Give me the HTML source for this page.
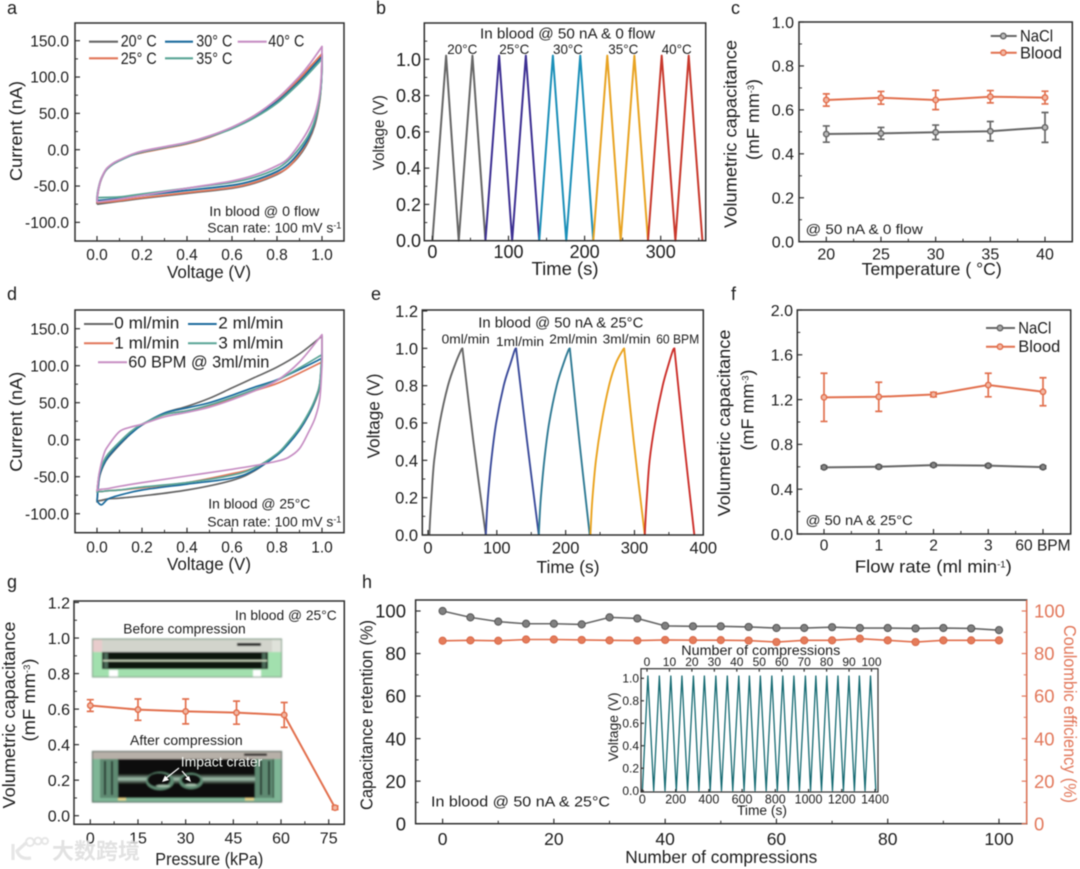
<!DOCTYPE html>
<html lang="en"><head><meta charset="utf-8"><title>Volumetric capacitance panels</title>
<style>
html,body{margin:0;padding:0;background:#fff;width:1080px;height:869px;overflow:hidden}
svg{display:block;filter:blur(.5px)}
text{font-family:"Liberation Sans","Noto Sans CJK SC",sans-serif;fill:#1c1c1c}
.leg{font-size:17px}.ann{font-size:14px}.ttl{font-size:17.5px}
.sup{font-size:9px}
</style></head><body>
<svg id="figure" width="1080" height="869" viewBox="0 0 1080 869" xmlns="http://www.w3.org/2000/svg">
<defs>
<filter id="soft" x="-5%" y="-5%" width="110%" height="110%"><feGaussianBlur stdDeviation=".7"/></filter>
<linearGradient id="bandGrad" x1="0" y1="0" x2="0" y2="1"><stop offset="0" stop-color="#0e1210"/><stop offset=".5" stop-color="#a8c9b4"/><stop offset="1" stop-color="#0e1210"/></linearGradient>
</defs>
<rect width="1080" height="869" fill="#fff"/>
<!-- panel letters -->
<g>
<text x="7" y="14" style="font-size:18px">a</text>
<text x="376" y="14" style="font-size:18px">b</text>
<text x="731" y="14" style="font-size:18px">c</text>
<text x="7" y="300" style="font-size:18px">d</text>
<text x="371" y="300" style="font-size:18px">e</text>
<text x="731" y="300" style="font-size:18px">f</text>
<text x="7" y="588" style="font-size:18px">g</text>
<text x="362" y="588" style="font-size:18px">h</text>
</g>

<!-- PANEL A -->
<g id="panel-a"></g>
<g>
<text class="ttl" transform="translate(22,131) rotate(-90)" text-anchor="middle" textLength="100" lengthAdjust="spacingAndGlyphs">Current (nA)</text>
<text class="ttl" x="209" y="278" text-anchor="middle" textLength="84" lengthAdjust="spacingAndGlyphs">Voltage (V)</text>
<g>
<line x1="89" x2="118" y1="41.7" y2="41.7" stroke="#666" stroke-width="2.2"/><text class="leg" x="120.7" y="46.5" textLength="36" lengthAdjust="spacingAndGlyphs">20° C</text>
<line x1="165" x2="193" y1="41.7" y2="41.7" stroke="#1c6c9e" stroke-width="2.2"/><text class="leg" x="196.3" y="46.5" textLength="36" lengthAdjust="spacingAndGlyphs">30° C</text>
<line x1="237.7" x2="266.7" y1="41.7" y2="41.7" stroke="#c78fc4" stroke-width="2.2"/><text class="leg" x="268.3" y="46.5" textLength="36" lengthAdjust="spacingAndGlyphs">40° C</text>
<line x1="89" x2="118" y1="58.3" y2="58.3" stroke="#e2775a" stroke-width="2.2"/><text class="leg" x="120.7" y="64" textLength="36" lengthAdjust="spacingAndGlyphs">25° C</text>
<line x1="165" x2="193" y1="58.3" y2="58.3" stroke="#5aa596" stroke-width="2.2"/><text class="leg" x="196.3" y="64" textLength="36" lengthAdjust="spacingAndGlyphs">35° C</text>
</g>
<text class="ann" x="209.3" y="216" textLength="110" lengthAdjust="spacingAndGlyphs">In blood @ 0 flow</text>
<text class="ann" x="207.3" y="232.7" textLength="134" lengthAdjust="spacingAndGlyphs">Scan rate: 100 mV s<tspan class="sup" dy="-4">-1</tspan></text>
</g>

<!-- PANEL B -->
<g id="panel-b"></g>
<g>
<text transform="translate(384,132.7) rotate(-90)" text-anchor="middle" style="font-size:15.5px" textLength="75" lengthAdjust="spacingAndGlyphs">Voltage (V)</text>
<text x="565" y="275" text-anchor="middle" style="font-size:18px" textLength="67" lengthAdjust="spacingAndGlyphs">Time (s)</text>
<text x="480" y="38.3" style="font-size:15px" textLength="175" lengthAdjust="spacingAndGlyphs">In blood @ 50 nA  &amp; 0 flow</text>
<text x="462.3" y="54" text-anchor="middle" style="font-size:14px" textLength="30" lengthAdjust="spacingAndGlyphs">20°C</text>
<text x="514.3" y="54" text-anchor="middle" style="font-size:14px" textLength="30" lengthAdjust="spacingAndGlyphs">25°C</text>
<text x="568" y="54" text-anchor="middle" style="font-size:14px" textLength="30" lengthAdjust="spacingAndGlyphs">30°C</text>
<text x="623.3" y="54" text-anchor="middle" style="font-size:14px" textLength="30" lengthAdjust="spacingAndGlyphs">35°C</text>
<text x="676.7" y="54" text-anchor="middle" style="font-size:14px" textLength="30" lengthAdjust="spacingAndGlyphs">40°C</text>
</g>

<!-- PANEL C -->
<g id="panel-c"></g>
<g>
<text class="ttl" transform="translate(736.5,134) rotate(-90)" text-anchor="middle" textLength="188" lengthAdjust="spacingAndGlyphs">Volumetric capacitance</text>
<text class="ttl" transform="translate(759,119.5) rotate(-90)" text-anchor="middle" textLength="81" lengthAdjust="spacingAndGlyphs">(mF mm<tspan class="sup" dy="-5">-3</tspan><tspan dy="5">)</tspan></text>
<text class="ttl" x="931.7" y="275" text-anchor="middle" textLength="140" lengthAdjust="spacingAndGlyphs">Temperature ( °C)</text>
<g>
<line x1="990.7" x2="1016.7" y1="36" y2="36" stroke="#666" stroke-width="2"/><circle cx="1003.3" cy="36" r="2.7" fill="#bbb" stroke="#666" stroke-width="1.5"/>
<text class="leg" x="1020" y="41.3" textLength="33" lengthAdjust="spacingAndGlyphs">NaCl</text>
<line x1="990.7" x2="1016.7" y1="52.7" y2="52.7" stroke="#e2704e" stroke-width="2"/><circle cx="1003.3" cy="52.7" r="2.7" fill="#f2b8a4" stroke="#e2704e" stroke-width="1.5"/>
<text class="leg" x="1020" y="58.3" textLength="42" lengthAdjust="spacingAndGlyphs">Blood</text>
</g>
<text class="ann" x="805.7" y="234" textLength="117" lengthAdjust="spacingAndGlyphs">@ 50 nA  &amp; 0 flow</text>
</g>

<!-- PANEL D -->
<g id="panel-d"></g>
<g>
<text class="ttl" transform="translate(22,421.7) rotate(-90)" text-anchor="middle" textLength="100" lengthAdjust="spacingAndGlyphs">Current (nA)</text>
<text class="ttl" x="209" y="570" text-anchor="middle" textLength="84" lengthAdjust="spacingAndGlyphs">Voltage (V)</text>
<g>
<line x1="84" x2="113.3" y1="324" y2="324" stroke="#666" stroke-width="2"/><text class="leg" x="114.3" y="328.3" textLength="65" lengthAdjust="spacingAndGlyphs">0 ml/min</text>
<line x1="188" x2="216.7" y1="324" y2="324" stroke="#1c6c9e" stroke-width="2"/><text class="leg" x="218.3" y="328.3" textLength="65" lengthAdjust="spacingAndGlyphs">2 ml/min</text>
<line x1="84" x2="113.3" y1="343.3" y2="343.3" stroke="#e2775a" stroke-width="2"/><text class="leg" x="114.3" y="348.3" textLength="65" lengthAdjust="spacingAndGlyphs">1 ml/min</text>
<line x1="188" x2="216.7" y1="343.3" y2="343.3" stroke="#5aa596" stroke-width="2"/><text class="leg" x="218.3" y="348.3" textLength="65" lengthAdjust="spacingAndGlyphs">3 ml/min</text>
<line x1="98" x2="127" y1="362.3" y2="362.3" stroke="#c78fc4" stroke-width="2"/><text class="leg" x="128.3" y="367.3" textLength="141" lengthAdjust="spacingAndGlyphs">60 BPM @ 3ml/min</text>
</g>
<text class="ann" x="208.3" y="508.3" textLength="102" lengthAdjust="spacingAndGlyphs">In blood @ 25°C</text>
<text class="ann" x="207.3" y="526.7" textLength="134" lengthAdjust="spacingAndGlyphs">Scan rate: 100 mV s<tspan class="sup" dy="-4">-1</tspan></text>
</g>

<!-- PANEL E -->
<g id="panel-e"></g>
<g>
<text class="ttl" transform="translate(379.3,416) rotate(-90)" text-anchor="middle" textLength="85" lengthAdjust="spacingAndGlyphs">Voltage (V)</text>
<text class="ttl" x="568" y="573" text-anchor="middle" textLength="63" lengthAdjust="spacingAndGlyphs">Time (s)</text>
<text x="478.3" y="327.3" style="font-size:14.5px" textLength="165" lengthAdjust="spacingAndGlyphs">In blood @ 50 nA  &amp; 25°C</text>
<text x="465.7" y="343.3" text-anchor="middle" style="font-size:13px" textLength="48" lengthAdjust="spacingAndGlyphs">0ml/min</text>
<text x="520" y="346" text-anchor="middle" style="font-size:13px" textLength="48" lengthAdjust="spacingAndGlyphs">1ml/min</text>
<text x="573.3" y="343.3" text-anchor="middle" style="font-size:13px" textLength="48" lengthAdjust="spacingAndGlyphs">2ml/min</text>
<text x="626.7" y="343.3" text-anchor="middle" style="font-size:13px" textLength="48" lengthAdjust="spacingAndGlyphs">3ml/min</text>
<text x="677.7" y="343.3" text-anchor="middle" style="font-size:13px" textLength="43" lengthAdjust="spacingAndGlyphs">60 BPM</text>
</g>

<!-- PANEL F -->
<g id="panel-f"></g>
<g>
<text class="ttl" transform="translate(730,423) rotate(-90)" text-anchor="middle" textLength="187" lengthAdjust="spacingAndGlyphs">Volumetric capacitance</text>
<text class="ttl" transform="translate(753.3,410) rotate(-90)" text-anchor="middle" textLength="81" lengthAdjust="spacingAndGlyphs">(mF mm<tspan class="sup" dy="-5">-3</tspan><tspan dy="5">)</tspan></text>
<text class="ttl" x="933.3" y="572.7" text-anchor="middle" textLength="157" lengthAdjust="spacingAndGlyphs">Flow rate (ml min<tspan class="sup" dy="-5">-1</tspan><tspan dy="5">)</tspan></text>
<g>
<line x1="986" x2="1015" y1="328" y2="328" stroke="#666" stroke-width="2"/><circle cx="1000" cy="328" r="2.7" fill="#aaa" stroke="#666" stroke-width="1.5"/>
<text class="leg" x="1018.3" y="333.3" textLength="33" lengthAdjust="spacingAndGlyphs">NaCl</text>
<line x1="986" x2="1015" y1="346.7" y2="346.7" stroke="#e2704e" stroke-width="2"/><circle cx="1000" cy="346.7" r="2.7" fill="#f2b8a4" stroke="#e2704e" stroke-width="1.5"/>
<text class="leg" x="1018.3" y="352" textLength="42" lengthAdjust="spacingAndGlyphs">Blood</text>
</g>
<text class="ann" x="805.7" y="525" textLength="107" lengthAdjust="spacingAndGlyphs">@ 50 nA  &amp; 25°C</text>
</g>

<!-- PANEL G -->
<g id="panel-g">
<g filter="url(#soft)">
<rect x="92.5" y="639" width="189" height="38" fill="#bcc7b8" stroke="#7f9a85" stroke-width="1"/>
<rect x="93" y="640" width="188" height="12" fill="#d2d4cc"/>
<rect x="93" y="640" width="9" height="14" fill="#e8cccc"/>
<rect x="272" y="640" width="9" height="14" fill="#dfe2da"/>
<rect x="93" y="652" width="188" height="24.5" fill="#a2e0ae"/>
<rect x="102" y="652" width="166" height="17" fill="#10150f"/>
<rect x="104" y="653" width="4" height="15" fill="#4c6a58"/>
<rect x="262" y="653" width="4" height="15" fill="#4c6a58"/>
<rect x="103" y="660" width="164" height="1.4" fill="#d6e4c8"/>
<rect x="109" y="670" width="9" height="6.5" fill="#fff"/>
<rect x="253" y="670" width="8" height="6.5" fill="#fff"/>
<rect x="237" y="643" width="24" height="2.8" fill="#000"/>
</g>
<g filter="url(#soft)">
<rect x="92.5" y="751.5" width="189" height="50.5" fill="#7fb696" stroke="#3f5448" stroke-width="1"/>
<rect x="93" y="752" width="188" height="7" fill="#b7b0a8"/>
<rect x="100" y="759" width="174" height="39" fill="#0b0e0c"/>
<rect x="100" y="759" width="18" height="39" fill="#5f8a72"/>
<rect x="255" y="759" width="18" height="39" fill="#5f8a72"/>
<rect x="104" y="761" width="2" height="34" fill="#26382d"/><rect x="111" y="761" width="2" height="34" fill="#26382d"/>
<rect x="260" y="761" width="2" height="34" fill="#26382d"/><rect x="268" y="761" width="2" height="34" fill="#26382d"/>
<rect x="118" y="774" width="137" height="10" fill="url(#bandGrad)"/>
<ellipse cx="160" cy="781" rx="14" ry="9" fill="#5f8a72"/>
<ellipse cx="191" cy="781" rx="12" ry="8" fill="#5f8a72"/>
<ellipse cx="159" cy="780" rx="11.5" ry="7" fill="#0a0d0b"/>
<ellipse cx="191" cy="780" rx="9.5" ry="5.5" fill="#0a0d0b"/>
<ellipse cx="163" cy="786" rx="7" ry="1.3" fill="#a8c2ae"/>
<ellipse cx="191" cy="785" rx="6" ry="1.2" fill="#a8c2ae"/>
<rect x="118" y="798" width="8" height="2.4" fill="#ecd88c"/>
<rect x="245" y="798" width="9" height="2.4" fill="#ecd88c"/>
<rect x="244" y="753.5" width="23" height="2.2" fill="#000"/>
</g>
<g>
<line x1="179" y1="768" x2="165" y2="779" stroke="#fff" stroke-width="1.2"/><polygon points="162,782 165,775.5 169,780" fill="#fff"/>
<line x1="182" y1="771" x2="189" y2="779" stroke="#fff" stroke-width="1.2"/><polygon points="191,782 185,779 189,776" fill="#fff"/>
<text x="180.7" y="766.7" style="font-size:14px;fill:#f4f8f4" textLength="81.6" lengthAdjust="spacingAndGlyphs">Impact crater</text>
</g>
</g>
<g>
<text class="ttl" transform="translate(15,715) rotate(-90)" text-anchor="middle" textLength="187" lengthAdjust="spacingAndGlyphs">Volumetric capacitance</text>
<text class="ttl" transform="translate(35,700) rotate(-90)" text-anchor="middle" textLength="83" lengthAdjust="spacingAndGlyphs">(mF mm<tspan class="sup" dy="-5">-3</tspan><tspan dy="5">)</tspan></text>
<text class="ttl" x="209.3" y="865" text-anchor="middle" textLength="108" lengthAdjust="spacingAndGlyphs">Pressure (kPa)</text>
<text class="ann" x="235" y="620" textLength="101.7" lengthAdjust="spacingAndGlyphs">In blood @ 25°C</text>
<text class="ann" x="123.3" y="633.3" textLength="122.4" lengthAdjust="spacingAndGlyphs">Before compression</text>
<text class="ann" x="130" y="745" textLength="112.7" lengthAdjust="spacingAndGlyphs">After compression</text>
</g>

<!-- PANEL H -->
<g id="panel-h"></g>
<g>
<text class="ttl" transform="translate(372.4,715) rotate(-90)" text-anchor="middle" textLength="190" lengthAdjust="spacingAndGlyphs">Capacitance retention (%)</text>
<text class="ttl" transform="translate(1064,714) rotate(90)" text-anchor="middle" textLength="178" lengthAdjust="spacingAndGlyphs" style="fill:#e2775a">Coulombic efficiency (%)</text>
<text class="ttl" x="721.3" y="863" text-anchor="middle" textLength="192" lengthAdjust="spacingAndGlyphs">Number of compressions</text>
<text x="431" y="806.7" style="font-size:14.5px" textLength="179" lengthAdjust="spacingAndGlyphs">In blood @ 50 nA &amp; 25°C</text>
<text x="760.8" y="655" text-anchor="middle" style="font-size:14px" textLength="159" lengthAdjust="spacingAndGlyphs">Number of compressions</text>
<text x="762" y="815" text-anchor="middle" style="font-size:13.6px" textLength="50" lengthAdjust="spacingAndGlyphs">Time (s)</text>
<text transform="translate(618,727) rotate(-90)" text-anchor="middle" style="font-size:13.8px" textLength="69" lengthAdjust="spacingAndGlyphs">Voltage (V)</text>
</g>

<!-- watermark -->
<g opacity=".85">
<path d="M13 844 V860 M27 842 L17 851 Q20 860 31 858" fill="none" stroke="#e2e2e2" stroke-width="3.2"/>
<circle cx="30" cy="842" r="4" fill="none" stroke="#e2e2e2" stroke-width="2"/>
<circle cx="38" cy="841" r="3.4" fill="none" stroke="#e2e2e2" stroke-width="2"/>
<circle cx="45" cy="841" r="3" fill="none" stroke="#e2e2e2" stroke-width="2"/>
<text x="52" y="859" style="font-size:22px;font-weight:700;fill:#dedede;font-family:'Noto Sans CJK SC',sans-serif">大数跨境</text>
</g>
</svg>

<script>
/* ---------- panel a data ---------- */
const aVoltUp = [0,.003,.01,.02,.04,.07,.1,.15,.2,.3,.4,.5,.6,.7,.8,.9,.95,1.0];
const aVoltDown = [1.0,.998,.99,.97,.94,.9,.85,.8,.7,.6,.4,.2,.1,0];
const a20Up = [-75,-62,-50,-40,-28,-20,-15,-8,-4,3,9,18,30,46,67,96,113,130];
const a20Down = [125,100,68,36,12,-8,-24,-34,-46,-53,-60,-67,-71,-75];
const a25Up = [-73,-61,-49,-39,-28,-20,-15,-8,-4,2,8,17,30,47,69,98,115,132];
const a25Down = [128,102,70,38,14,-6,-24,-33,-45,-52,-59,-66,-70,-73];
const a30Up = [-70,-60,-49,-39,-28,-20,-15,-8,-3,3,9,18,30,46,66,94,111,128];
const a30Down = [130,98,72,40,16,-3,-20,-30,-42,-49,-56,-63,-67,-70];
const a35Up = [-66,-58,-48,-39,-28,-20,-15,-8,-3,3,9,18,29,44,64,92,108,125];
const a35Down = [125,100,72,42,20,2,-15,-26,-38,-45,-53,-61,-65,-66];
const a40Up = [-72,-61,-49,-39,-27,-19,-14,-7,-2,4,10,19,31,47,70,101,120,142];
const a40Down = [141,108,78,50,28,8,-12,-22,-35,-43,-53,-63,-68,-72];
const cvXTicks = [0,.2,.4,.6,.8,1];
const cvXLabels = ['0.0','0.2','0.4','0.6','0.8','1.0'];
const cvYTicks = [-100,-50,0,50,100,150];
const cvYLabels = ['-100.0','-50.0','0.0','50.0','100.0','150.0'];

/* ---------- panel b data ---------- */
const bTimes20 = [0,18,34.6,52.6,69.7];
const bTimes25 = [69.7,87.7,104.8,122.8,140.4];
const bTimes30 = [140.4,158.3,175.9,194.3,211.4];
const bTimes35 = [211.4,229.8,247.4,265.4,283.3];
const bTimes40 = [283.3,301.3,319.3,336.8,354.8];
const bVolts = [0,1.02,0,1.02,0];
const bXTicks = [0,100,200,300];
const bXLabels = ['0','100','200','300'];
const bYTicks = [0,.2,.4,.6,.8,1];
const bYLabels = ['0.0','0.2','0.4','0.6','0.8','1.0'];

/* ---------- panel c data ---------- */
const cTemps = [20,25,30,35,40];
const cNaCl = [.49,.493,.498,.503,.52];
const cNaClErr = [.037,.027,.033,.044,.068];
const cBlood = [.645,.655,.645,.66,.656];
const cBloodErr = [.028,.029,.044,.028,.029];
const cXLabels = ['20','25','30','35','40'];
const cYTicks = [0,.2,.4,.6,.8,1];
const cYLabels = ['0.0','0.2','0.4','0.6','0.8','1.0'];

/* ---------- panel d data ---------- */
const dVoltUp = [0,.01,.03,.05,.1,.15,.2,.3,.4,.5,.6,.7,.8,.9,1.0];
const dVoltDown = [1.0,.99,.97,.94,.9,.85,.8,.7,.6,.4,.2,.1,.05,.02,0];
const d0Up = [-85,-52,-34,-24,-7,8,20,36,45,56,70,84,98,116,140];
const d0Down = [110,75,55,35,15,-5,-20,-42,-55,-68,-76,-79,-80,-82,-83];
const d1Up = [-70,-48,-31,-21,-5,9,20,34,39,46,55,66,76,90,105];
const d1Down = [112,72,52,33,13,-5,-20,-38,-46,-58,-65,-68,-69,-70,-70];
const d2Up = [-83,-50,-33,-23,-6,8,20,36,43,50,60,71,81,95,110];
const d2Down = [115,74,53,33,13,-6,-21,-41,-52,-60,-68,-75,-80,-88,-83];
const d3Up = [-72,-46,-29,-19,-3,11,21,34,39,47,57,68,80,97,115];
const d3Down = [122,76,55,36,16,-3,-19,-38,-48,-58,-64,-68,-69,-70,-70];
const d60Up = [-70,-45,-20,-8,11,17,21,31,37,44,54,66,80,105,142];
const d60Down = [100,55,30,10,-12,-24,-29,-35,-40,-49,-58,-63,-66,-67,-68];

/* ---------- panel e data ---------- */
const eVoltsCharge = [0,.08,.2,.4,.6,.8,.92,.99,1];
const eVoltsDischarge = [1,.5,0];
const eTimes0 = [2,3,5,9,17,29,40,48,50];
const eFall0 = [50,66,84];
const eTimes1 = [84,85,87,92,99,110,120,126,128];
const eFall1 = [128,144,161];
const eTimes2 = [161,162,164,169,176,187,197,204,206];
const eFall2 = [206,220,235];
const eTimes3 = [236,237,239,244,252,263,273,283,285];
const eFall3 = [285,299,315];
const eTimes60 = [315,316,318,322,330,341,350,356,358];
const eFall60 = [358,372,387];
const eXTicks = [0,100,200,300,400];
const eXLabels = ['0','100','200','300','400'];
const eYTicks = [0,.2,.4,.6,.8,1,1.2];
const eYLabels = ['0.0','0.2','0.4','0.6','0.8','1.0','1.2'];

/* ---------- panel f data ---------- */
const fCats = [0,1,2,3,4];
const fNaCl = [.595,.6,.615,.61,.597];
const fNaClErr = [.012,.012,.012,.012,.012];
const fBlood = [1.22,1.225,1.245,1.33,1.27];
const fBloodErr = [.215,.13,.02,.105,.125];
const fXLabels = ['0','1','2','3','60 BPM'];
const fYTicks = [0,.4,.8,1.2,1.6,2];
const fYLabels = ['0.0','0.4','0.8','1.2','1.6','2.0'];

/* ---------- panel g data ---------- */
const gPressure = [0,15,30,46,61,77];
const gCap = [.62,.597,.587,.58,.567,.045];
const gErr = [.033,.06,.07,.065,.07,.01];
const gXTicks = [0,15,30,45,60,75];
const gXLabels = ['0','15','30','45','60','75'];
const gYTicks = [0,.2,.4,.6,.8,1,1.2];
const gYLabels = ['0.0','0.2','0.4','0.6','0.8','1.0','1.2'];

/* ---------- panel h data ---------- */
const hCycles = [0,5,10,15,20,25,30,35,40,45,50,55,60,65,70,75,80,85,90,95,100];
const hRetention = [100,97,95,94,94,93.7,97,96.5,93,92.8,92.8,92.5,92,92,92.4,92,92,91.8,92,91.8,91];
const hCoulombic = [86,86.2,86,86.6,86.6,86.4,86.2,86.1,86.4,86.3,86.3,86.1,85.4,86.2,86.2,87,86.2,85.4,86.2,86.2,86.2];
const hXTicks = [0,20,40,60,80,100];
const hXLabels = ['0','20','40','60','80','100'];
const hYTicks = [0,20,40,60,80,100];
const hYLabels = ['0','20','40','60','80','100'];

/* ---------- panel h inset data ---------- */
const insetPeakTimes = [33,102,171,238,307,373,442,511,580,644,710,779,845,912,981,1044,1110,1177,1243,1306,1373];
const insetValleyTimes = [0,68,136,204,272,340,408,476,544,612,678,745,812,878,945,1012,1078,1144,1210,1276,1340,1405];
const insetPeakVolt = [1.02,1.02,1.02,1.02,1.02,1.02,1.02,1.02,1.02,1.02,1.02,1.02,1.02,1.02,1.02,1.02,1.02,1.02,1.02,1.02,1.02];
const insetXTicks = [0,200,400,600,800,1000,1200,1400];
const insetXLabels = ['0','200','400','600','800','1000','1200','1400'];
const insetYTicks = [0,.2,.4,.6,.8,1];
const insetYLabels = ['0.0','0.2','0.4','0.6','0.8','1.0'];
const insetTopTicks = [0,10,20,30,40,50,60,70,80,90,100];
const insetTopLabels = ['0','10','20','30','40','50','60','70','80','90','100'];

/* ---------- drawing helpers ---------- */
const NS = 'http://www.w3.org/2000/svg';
const DARK = '#2e2e2e', GRAY = '#666666', ORANGE = '#e2704e';
function mk(parent, tag, attrs, txt){
  const n = document.createElementNS(NS, tag);
  for (const k in attrs) n.setAttribute(k, attrs[k]);
  if (txt !== undefined) n.textContent = txt;
  parent.appendChild(n);
  return n;
}
function scale(d0, d1, r0, r1){ return v => r0 + (v - d0) * (r1 - r0) / (d1 - d0); }

function xAxis(g, X, ticks, labels, o){
  ticks.forEach((v, i) => {
    const t = mk(g, 'line', {x1:X(v), x2:X(v), y1:o.y, y2:o.y + o.dir * (o.len || 5), stroke:o.color || DARK, 'stroke-width':1.2});
    
    
    const l = mk(g, 'text', {x:X(v), y:o.labelY, 'text-anchor':'middle', style:'font-size:' + o.font + 'px'}, labels[i]);
    
    
  });
  (o.minor || []).forEach(v => {
    const t = mk(g, 'line', {x1:X(v), x2:X(v), y1:o.y, y2:o.y + o.dir * 3, stroke:o.color || DARK, 'stroke-width':1});
    
    
  });
}
function yAxis(g, Y, ticks, labels, o){
  ticks.forEach((v, i) => {
    const t = mk(g, 'line', {x1:o.x, x2:o.x + o.dir * (o.len || 5), y1:Y(v), y2:Y(v), stroke:o.color || DARK, 'stroke-width':1.2});
    
    
    const l = mk(g, 'text', {x:o.labelX, y:Y(v) + o.font * .36, 'text-anchor':o.anchor || 'end', style:'font-size:' + o.font + 'px' + (o.color ? ';fill:' + o.color : '')}, labels[i]);
    
    
  });
  (o.minor || []).forEach(v => {
    const t = mk(g, 'line', {x1:o.x, x2:o.x + o.dir * 3, y1:Y(v), y2:Y(v), stroke:o.color || DARK, 'stroke-width':1});
    
    
  });
}
function frame(g, l, t, r, b, sw){
  const f = mk(g, 'rect', {x:l, y:t, width:r - l, height:b - t, fill:'none', stroke:DARK, 'stroke-width':sw || 1.5});
  
  
}
function polyline(g, xs, ys, X, Y, color, w, name){
  const pts = xs.map((x, i) => X(x).toFixed(2) + ',' + Y(ys[i]).toFixed(2)).join(' ');
  const p = mk(g, 'polyline', {points:pts, fill:'none', stroke:color, 'stroke-width':w, 'stroke-linejoin':'round'});
  
  
}
/* Catmull-Rom smoothing through the data points, in pixel space */
function smoothSeg(xs, ys, X, Y){
  const P = xs.map((x, i) => [X(x), Y(ys[i])]);
  let d = '';
  for (let i = 0; i < P.length - 1; i++) {
    const p0 = P[Math.max(i - 1, 0)], p1 = P[i], p2 = P[i + 1], p3 = P[Math.min(i + 2, P.length - 1)];
    const c1x = p1[0] + (p2[0] - p0[0]) / 6, c1y = p1[1] + (p2[1] - p0[1]) / 6;
    const c2x = p2[0] - (p3[0] - p1[0]) / 6, c2y = p2[1] - (p3[1] - p1[1]) / 6;
    d += 'C' + c1x.toFixed(2) + ' ' + c1y.toFixed(2) + ' ' + c2x.toFixed(2) + ' ' + c2y.toFixed(2) + ' ' + p2[0].toFixed(2) + ' ' + p2[1].toFixed(2);
  }
  return {start:P[0], d:d};
}
function twoBranch(g, x1, y1, x2, y2, X, Y, color, w, name){
  const a = smoothSeg(x1, y1, X, Y), b = smoothSeg(x2, y2, X, Y);
  const d = 'M' + a.start[0] + ' ' + a.start[1] + a.d + 'L' + b.start[0] + ' ' + b.start[1] + b.d;
  const p = mk(g, 'path', {d:d, fill:'none', stroke:color, 'stroke-width':w, 'stroke-linejoin':'round'});
  
  
}
function markers(g, xs, ys, X, Y, r, fill, stroke, sw, name){
  xs.forEach((x, i) => {
    const c = mk(g, 'circle', {cx:X(x), cy:Y(ys[i]), r:r, fill:fill, stroke:stroke, 'stroke-width':sw});
    
    
  });
}
function errorBars(g, xs, ys, errs, X, Y, color, name){
  xs.forEach((x, i) => {
    const hi = Y(ys[i] + errs[i]), lo = Y(ys[i] - errs[i]), cx = X(x);
    const e = mk(g, 'path', {d:'M' + cx + ' ' + hi + 'V' + lo + 'M' + (cx - 3.5) + ' ' + hi + 'h7M' + (cx - 3.5) + ' ' + lo + 'h7', fill:'none', stroke:color, 'stroke-width':1.7});
    
    
  });
}

/* ---------- panel a ---------- */
(function(){
  const g = document.getElementById('panel-a');
  const X = scale(0, 1, 97, 322), Y = scale(0, 150, 149.7, 40.7);
  twoBranch(g, aVoltUp, a20Up, aVoltDown, a20Down, X, Y, '#666666', 1.8, 'cv-curve-20c');
  twoBranch(g, aVoltUp, a25Up, aVoltDown, a25Down, X, Y, '#e2775a', 1.8, 'cv-curve-25c');
  twoBranch(g, aVoltUp, a30Up, aVoltDown, a30Down, X, Y, '#1c6c9e', 1.8, 'cv-curve-30c');
  twoBranch(g, aVoltUp, a35Up, aVoltDown, a35Down, X, Y, '#5aa596', 1.8, 'cv-curve-35c');
  twoBranch(g, aVoltUp, a40Up, aVoltDown, a40Down, X, Y, '#c78fc4', 1.8, 'cv-curve-40c');
  frame(g, 75, 23, 344, 241);
  xAxis(g, X, cvXTicks, cvXLabels, {y:241, dir:-1, labelY:260, font:15.5, minor:[.1,.3,.5,.7,.9]});
  yAxis(g, Y, cvYTicks, cvYLabels, {x:75, dir:1, labelX:69, font:15.5, minor:[-75,-25,25,75,125]});
})();

/* ---------- panel b ---------- */
(function(){
  const g = document.getElementById('panel-b');
  const X = scale(0, 300, 432.4, 660.7), Y = scale(0, 1, 240.7, 59.3);
  polyline(g, bTimes20, bVolts, X, Y, '#666666', 2, 'gcd-curve-20c');
  polyline(g, bTimes25, bVolts, X, Y, '#3c2f92', 2, 'gcd-curve-25c');
  polyline(g, bTimes30, bVolts, X, Y, '#1a8fb8', 2, 'gcd-curve-30c');
  polyline(g, bTimes35, bVolts, X, Y, '#e8a322', 2, 'gcd-curve-35c');
  polyline(g, bTimes40, bVolts, X, Y, '#c8382c', 2, 'gcd-curve-40c');
  frame(g, 424.3, 23, 705.7, 240.7);
  xAxis(g, X, bXTicks, bXLabels, {y:240.7, dir:-1, labelY:258, font:18, minor:[50,150,250,350]});
  yAxis(g, Y, bYTicks, bYLabels, {x:424.3, dir:1, labelX:421, font:18, minor:[.1,.3,.5,.7,.9,1.1]});
})();

/* ---------- panel c ---------- */
(function(){
  const g = document.getElementById('panel-c');
  const X = scale(20, 40, 826.3, 1045), Y = scale(0, 1, 241.7, 22);
  polyline(g, cTemps, cNaCl, X, Y, GRAY, 2, 'nacl-line');
  errorBars(g, cTemps, cNaCl, cNaClErr, X, Y, GRAY, 'nacl-error-bar');
  markers(g, cTemps, cNaCl, X, Y, 2.7, '#bbb', GRAY, 1.5, 'nacl-point');
  polyline(g, cTemps, cBlood, X, Y, ORANGE, 2, 'blood-line');
  errorBars(g, cTemps, cBlood, cBloodErr, X, Y, ORANGE, 'blood-error-bar');
  markers(g, cTemps, cBlood, X, Y, 2.7, '#f2b8a4', ORANGE, 1.5, 'blood-point');
  frame(g, 799, 22, 1072.3, 241.7);
  xAxis(g, X, cTemps, cXLabels, {y:241.7, dir:-1, labelY:259.5, font:16, minor:[22.5,27.5,32.5,37.5]});
  yAxis(g, Y, cYTicks, cYLabels, {x:799, dir:1, labelX:794, font:16, minor:[.1,.3,.5,.7,.9]});
})();

/* ---------- panel d ---------- */
(function(){
  const g = document.getElementById('panel-d');
  const X = scale(0, 1, 97, 322), Y = scale(0, 150, 439.7, 328.7);
  twoBranch(g, dVoltUp, d0Up, dVoltDown, d0Down, X, Y, '#666666', 1.7, 'cv-curve-0-ml');
  twoBranch(g, dVoltUp, d1Up, dVoltDown, d1Down, X, Y, '#e2775a', 1.7, 'cv-curve-1-ml');
  twoBranch(g, dVoltUp, d2Up, dVoltDown, d2Down, X, Y, '#1c6c9e', 1.7, 'cv-curve-2-ml');
  twoBranch(g, dVoltUp, d3Up, dVoltDown, d3Down, X, Y, '#5aa596', 1.7, 'cv-curve-3-ml');
  twoBranch(g, dVoltUp, d60Up, dVoltDown, d60Down, X, Y, '#c78fc4', 1.7, 'cv-curve-60-bpm');
  frame(g, 75, 310, 344, 532.7);
  xAxis(g, X, cvXTicks, cvXLabels, {y:532.7, dir:-1, labelY:552.7, font:15.5, minor:[.1,.3,.5,.7,.9]});
  yAxis(g, Y, cvYTicks, cvYLabels, {x:75, dir:1, labelX:69, font:15.5, minor:[-75,-25,25,75,125]});
})();

/* ---------- panel e ---------- */
(function(){
  const g = document.getElementById('panel-e');
  const X = scale(0, 400, 428, 703.3), Y = scale(0, 1.2, 535, 311);
  twoBranch(g, eTimes0, eVoltsCharge, eFall0, eVoltsDischarge, X, Y, '#666666', 1.9, 'gcd-curve-0-ml');
  twoBranch(g, eTimes1, eVoltsCharge, eFall1, eVoltsDischarge, X, Y, '#3a4a9a', 1.9, 'gcd-curve-1-ml');
  twoBranch(g, eTimes2, eVoltsCharge, eFall2, eVoltsDischarge, X, Y, '#2f7a94', 1.9, 'gcd-curve-2-ml');
  twoBranch(g, eTimes3, eVoltsCharge, eFall3, eVoltsDischarge, X, Y, '#eaa31f', 1.9, 'gcd-curve-3-ml');
  twoBranch(g, eTimes60, eVoltsCharge, eFall60, eVoltsDischarge, X, Y, '#cc2f2a', 1.9, 'gcd-curve-60-bpm');
  frame(g, 422.3, 310, 703.3, 535);
  xAxis(g, X, eXTicks, eXLabels, {y:535, dir:-1, labelY:553.3, font:16.5, minor:[50,150,250,350]});
  yAxis(g, Y, eYTicks, eYLabels, {x:422.3, dir:1, labelX:418, font:16.5, minor:[.1,.3,.5,.7,.9,1.1]});
})();

/* ---------- panel f ---------- */
(function(){
  const g = document.getElementById('panel-f');
  const X = scale(0, 4, 824, 1043), Y = scale(0, 2, 534, 310);
  polyline(g, fCats, fNaCl, X, Y, GRAY, 2, 'nacl-line');
  errorBars(g, fCats, fNaCl, fNaClErr, X, Y, GRAY, 'nacl-error-bar');
  markers(g, fCats, fNaCl, X, Y, 2.7, '#888', '#555', 1.5, 'nacl-point');
  polyline(g, fCats, fBlood, X, Y, ORANGE, 2, 'blood-line');
  errorBars(g, fCats, fBlood, fBloodErr, X, Y, ORANGE, 'blood-error-bar');
  markers(g, fCats, fBlood, X, Y, 2.7, '#f2b8a4', ORANGE, 1.5, 'blood-point');
  frame(g, 797.3, 310, 1070.7, 534);
  xAxis(g, X, fCats, fXLabels, {y:534, dir:-1, labelY:550.7, font:15.5, minor:[.5,1.5,2.5,3.5]});
  yAxis(g, Y, fYTicks, fYLabels, {x:797.3, dir:1, labelX:793, font:16, minor:[.2,.6,1,1.4,1.8]});
})();

/* ---------- panel g ---------- */
(function(){
  const g = document.getElementById('panel-g');
  const X = scale(0, 75, 90.3, 328.7), Y = scale(0, 1.2, 815.7, 602.5);
  polyline(g, gPressure, gCap, X, Y, ORANGE, 2, 'blood-line');
  errorBars(g, gPressure, gCap, gErr, X, Y, ORANGE, 'blood-error-bar');
  markers(g, gPressure, gCap, X, Y, 2.7, '#f2b8a4', ORANGE, 1.5, 'blood-point');
  frame(g, 74, 601, 344.3, 824.3);
  xAxis(g, X, gXTicks, gXLabels, {y:824.3, dir:-1, labelY:843.3, font:16, minor:[7.5,22.5,37.5,52.5,67.5]});
  yAxis(g, Y, gYTicks, gYLabels, {x:74, dir:1, labelX:70, font:16, minor:[.1,.3,.5,.7,.9,1.1]});
})();

/* ---------- panel h ---------- */
(function(){
  const g = document.getElementById('panel-h');
  const X = scale(0, 100, 442.6, 999), Y = scale(0, 100, 823.7, 611);
  polyline(g, hCycles, hRetention, X, Y, GRAY, 1.6, 'retention-line');
  markers(g, hCycles, hRetention, X, Y, 3.6, '#808080', '#555', 1, 'retention-point');
  polyline(g, hCycles, hCoulombic, X, Y, ORANGE, 1.6, 'coulombic-line');
  markers(g, hCycles, hCoulombic, X, Y, 3.6, '#e57c5a', '#d8694a', 1, 'coulombic-point');
  frame(g, 415.6, 600, 1026.7, 823.7, 1.5);
  const rightAxis = mk(g, 'line', {x1:1026.7, x2:1026.7, y1:600, y2:823.7, stroke:'#e2775a', 'stroke-width':1.5});
  
  
  xAxis(g, X, hXTicks, hXLabels, {y:823.7, dir:-1, labelY:845, font:17.5, minor:[10,30,50,70,90]});
  yAxis(g, Y, hYTicks, hYLabels, {x:415.6, dir:1, labelX:406, font:18.5, minor:[10,30,50,70,90]});
  yAxis(g, Y, hYTicks, hYLabels, {x:1026.7, dir:-1, labelX:1034, anchor:'start', font:18.5, color:'#e2775a', minor:[10,30,50,70,90]});

  /* inset */
  const XI = scale(0, 1400, 642.4, 875), YI = scale(0, 1, 790.7, 678.3);
  const XT = scale(0, 100, 647, 871.5);
  const insetT = [], insetV = [];
  insetValleyTimes.forEach((t, i) => {
    insetT.push(t);
    insetV.push(0);
    if (i < insetPeakTimes.length) {
      insetT.push(insetPeakTimes[i]);
      insetV.push(insetPeakVolt[i]);
    }
  });
  polyline(g, insetT, insetV, XI, YI, '#156a72', 1.3, 'inset-gcd-curve');
  frame(g, 641, 668.7, 878, 792, 1.2);
  xAxis(g, XI, insetXTicks, insetXLabels, {y:792, dir:-1, len:3, labelY:803.3, font:12.5});
  xAxis(g, XT, insetTopTicks, insetTopLabels, {y:668.7, dir:1, len:3, labelY:666, font:12});
  yAxis(g, YI, insetYTicks, insetYLabels, {x:641, dir:1, len:3, labelX:639, font:12});
})();
</script>
</body></html>
